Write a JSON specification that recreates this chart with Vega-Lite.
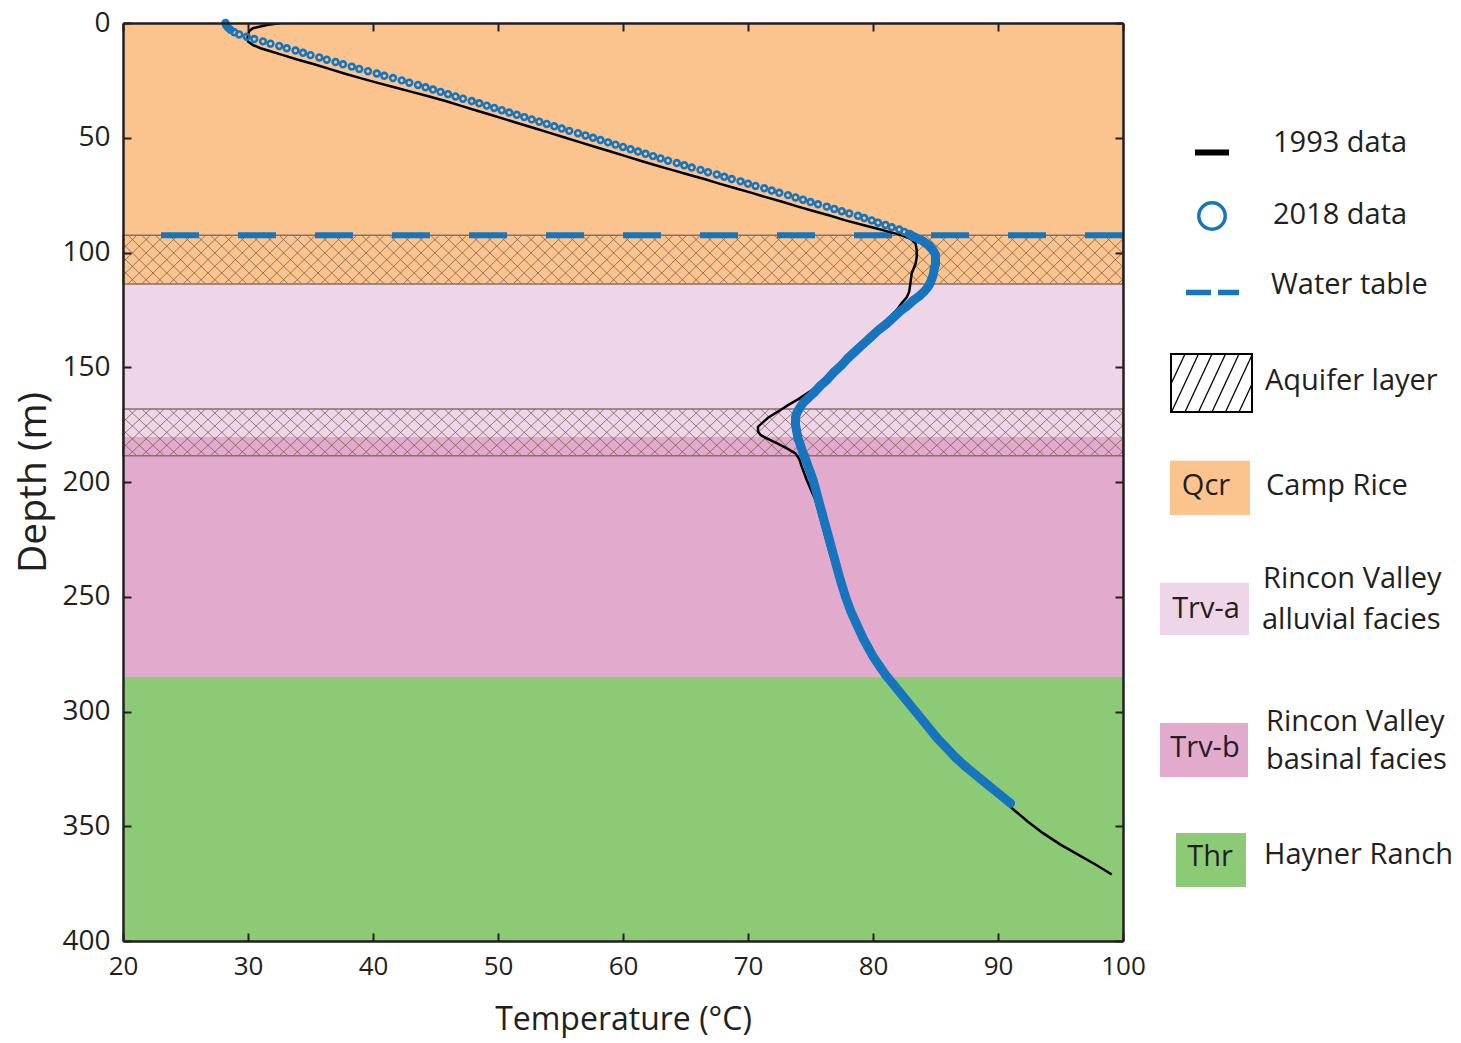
{
  "$schema": "https://vega.github.io/schema/vega-lite/v6.json",
  "background": "white",
  "padding": {"left": 14, "top": 9, "right": 0, "bottom": 14},
  "config": {"font": "Open Sans", "view": {"stroke": null}},
  "spacing": 12,
  "resolve": {"scale": {"x": "independent", "y": "independent"}},
  "datasets": {
    "formations": [
      {"code": "Qcr", "top": 0, "bottom": 113.7},
      {"code": "Trv-a", "top": 113.7, "bottom": 180.3},
      {"code": "Trv-b", "top": 180.3, "bottom": 285},
      {"code": "Thr", "top": 285, "bottom": 400}
    ],
    "aquifers": [
      {"top": 92.5, "bottom": 113.7},
      {"top": 168.2, "bottom": 188.6}
    ],
    "hatch": [
      {"p":16.0,"q":20.0},{"p":17.1,"q":21.1},{"p":18.2,"q":22.2},{"p":19.3,"q":23.3},{"p":20.4,"q":24.4},{"p":21.5,"q":25.5},{"p":22.6,"q":26.6},{"p":23.7,"q":27.7},{"p":24.8,"q":28.8},{"p":25.9,"q":29.9},
      {"p":27.0,"q":31.0},{"p":28.1,"q":32.1},{"p":29.2,"q":33.2},{"p":30.3,"q":34.3},{"p":31.4,"q":35.4},{"p":32.5,"q":36.5},{"p":33.6,"q":37.6},{"p":34.7,"q":38.7},{"p":35.8,"q":39.8},{"p":36.9,"q":40.9},
      {"p":38.0,"q":42.0},{"p":39.1,"q":43.1},{"p":40.2,"q":44.2},{"p":41.3,"q":45.3},{"p":42.4,"q":46.4},{"p":43.5,"q":47.5},{"p":44.6,"q":48.6},{"p":45.7,"q":49.7},{"p":46.8,"q":50.8},{"p":47.9,"q":51.9},
      {"p":49.0,"q":53.0},{"p":50.1,"q":54.1},{"p":51.2,"q":55.2},{"p":52.3,"q":56.3},{"p":53.4,"q":57.4},{"p":54.5,"q":58.5},{"p":55.6,"q":59.6},{"p":56.7,"q":60.7},{"p":57.8,"q":61.8},{"p":58.9,"q":62.9},
      {"p":60.0,"q":64.0},{"p":61.1,"q":65.1},{"p":62.2,"q":66.2},{"p":63.3,"q":67.3},{"p":64.4,"q":68.4},{"p":65.5,"q":69.5},{"p":66.6,"q":70.6},{"p":67.7,"q":71.7},{"p":68.8,"q":72.8},{"p":69.9,"q":73.9},
      {"p":71.0,"q":75.0},{"p":72.1,"q":76.1},{"p":73.2,"q":77.2},{"p":74.3,"q":78.3},{"p":75.4,"q":79.4},{"p":76.5,"q":80.5},{"p":77.6,"q":81.6},{"p":78.7,"q":82.7},{"p":79.8,"q":83.8},{"p":80.9,"q":84.9},
      {"p":82.0,"q":86.0},{"p":83.1,"q":87.1},{"p":84.2,"q":88.2},{"p":85.3,"q":89.3},{"p":86.4,"q":90.4},{"p":87.5,"q":91.5},{"p":88.6,"q":92.6},{"p":89.7,"q":93.7},{"p":90.8,"q":94.8},{"p":91.9,"q":95.9},
      {"p":93.0,"q":97.0},{"p":94.1,"q":98.1},{"p":95.2,"q":99.2},{"p":96.3,"q":100.3},{"p":97.4,"q":101.4},{"p":98.5,"q":102.5},{"p":99.6,"q":103.6}
    ],
    "d1993": [
      {"depth":0,"T":32.6},{"depth":0.9,"T":31.5},{"depth":2.3,"T":30.4},{"depth":3.5,"T":30.1},{"depth":5.2,"T":30.0},{"depth":6.7,"T":29.95},{"depth":8.1,"T":30.0},{"depth":9.6,"T":30.4},{"depth":11,"T":31.0},{"depth":12,"T":31.6},
      {"depth":14,"T":32.8},{"depth":16,"T":34.0},{"depth":18,"T":35.3},{"depth":20,"T":36.5},{"depth":22,"T":37.7},{"depth":24,"T":39.0},{"depth":26,"T":40.3},{"depth":28,"T":41.7},{"depth":30,"T":43.1},{"depth":32,"T":44.5},
      {"depth":34,"T":45.8},{"depth":36,"T":47.0},{"depth":38,"T":48.2},{"depth":40,"T":49.4},{"depth":42,"T":50.6},{"depth":44,"T":51.8},{"depth":46,"T":53.0},{"depth":48,"T":54.2},{"depth":50,"T":55.4},{"depth":52,"T":56.6},
      {"depth":54,"T":57.8},{"depth":56,"T":59.0},{"depth":58,"T":60.2},{"depth":60,"T":61.4},{"depth":62,"T":62.6},{"depth":64,"T":63.9},{"depth":66,"T":65.2},{"depth":68,"T":66.5},{"depth":70,"T":67.7},{"depth":72,"T":69.0},
      {"depth":74,"T":70.3},{"depth":76,"T":71.5},{"depth":78,"T":72.8},{"depth":80,"T":74.0},{"depth":82,"T":75.3},{"depth":84,"T":76.6},{"depth":86,"T":77.8},{"depth":88,"T":79.2},{"depth":90,"T":80.6},{"depth":91,"T":81.3},
      {"depth":92,"T":82.0},{"depth":93,"T":82.5},{"depth":94,"T":83.0},{"depth":96,"T":83.4},{"depth":99,"T":83.5},{"depth":102,"T":83.5},{"depth":105,"T":83.4},{"depth":109,"T":83.1},{"depth":113,"T":83.0},{"depth":117,"T":82.9},
      {"depth":119.5,"T":82.7},{"depth":122,"T":82.3},{"depth":125,"T":81.9},{"depth":131,"T":80.8},{"depth":137,"T":79.6},{"depth":143,"T":78.4},{"depth":149,"T":77.3},{"depth":155,"T":76.1},{"depth":160,"T":75.1},{"depth":164,"T":74.0},
      {"depth":166.5,"T":73.2},{"depth":168.6,"T":72.6},{"depth":172,"T":71.6},{"depth":175.9,"T":70.8},{"depth":178,"T":70.8},{"depth":179.5,"T":71.0},{"depth":181,"T":71.5},{"depth":183.1,"T":72.3},{"depth":185,"T":73.0},{"depth":187.5,"T":73.8},
      {"depth":190,"T":74.1},{"depth":193.3,"T":74.3},{"depth":199.1,"T":74.7},{"depth":208,"T":75.4},{"depth":220,"T":76.0},{"depth":230,"T":76.5},{"depth":243,"T":77.2},{"depth":250,"T":77.6},{"depth":256,"T":78.0},{"depth":262,"T":78.5},
      {"depth":270,"T":79.2},{"depth":276,"T":79.8},{"depth":280,"T":80.3},{"depth":284,"T":80.8},{"depth":288,"T":81.4},{"depth":292,"T":82.0},{"depth":296,"T":82.6},{"depth":300,"T":83.2},{"depth":304,"T":83.8},{"depth":308,"T":84.4},
      {"depth":312,"T":85.0},{"depth":316,"T":85.7},{"depth":320,"T":86.4},{"depth":324,"T":87.2},{"depth":328,"T":88.1},{"depth":332,"T":89.0},{"depth":336,"T":89.9},{"depth":340,"T":90.7},{"depth":343,"T":91.3},{"depth":348,"T":92.4},
      {"depth":353,"T":93.6},{"depth":358,"T":95.0},{"depth":362,"T":96.3},{"depth":367,"T":97.9},{"depth":371,"T":99.1}
    ],
    "d2018": [
      {"depth":0,"T":28.2},{"depth":1,"T":28.25},{"depth":2,"T":28.4},{"depth":3,"T":28.6},{"depth":4,"T":28.9},{"depth":5,"T":29.3},{"depth":6,"T":29.9},{"depth":7,"T":30.5},{"depth":8,"T":31.2},{"depth":9,"T":31.8},
      {"depth":10,"T":32.5},{"depth":11,"T":33.1},{"depth":12,"T":33.8},{"depth":13,"T":34.4},{"depth":14,"T":35.0},{"depth":15,"T":35.7},{"depth":16,"T":36.3},{"depth":17,"T":37.0},{"depth":18,"T":37.6},{"depth":19,"T":38.3},
      {"depth":20,"T":38.9},{"depth":21,"T":39.6},{"depth":22,"T":40.3},{"depth":23,"T":40.9},{"depth":24,"T":41.6},{"depth":25,"T":42.3},{"depth":26,"T":42.9},{"depth":27,"T":43.6},{"depth":28,"T":44.2},{"depth":29,"T":44.8},
      {"depth":30,"T":45.4},{"depth":31,"T":46.0},{"depth":32,"T":46.6},{"depth":33,"T":47.2},{"depth":34,"T":47.9},{"depth":35,"T":48.5},{"depth":36,"T":49.1},{"depth":37,"T":49.7},{"depth":38,"T":50.3},{"depth":39,"T":50.9},
      {"depth":40,"T":51.5},{"depth":41,"T":52.1},{"depth":42,"T":52.7},{"depth":43,"T":53.3},{"depth":44,"T":53.9},{"depth":45,"T":54.5},{"depth":46,"T":55.1},{"depth":47,"T":55.7},{"depth":48,"T":56.4},{"depth":49,"T":57.0},
      {"depth":50,"T":57.6},{"depth":51,"T":58.2},{"depth":52,"T":58.8},{"depth":53,"T":59.4},{"depth":54,"T":60.0},{"depth":55,"T":60.6},{"depth":56,"T":61.2},{"depth":57,"T":61.8},{"depth":58,"T":62.4},{"depth":59,"T":63.0},
      {"depth":60,"T":63.6},{"depth":61,"T":64.3},{"depth":62,"T":64.9},{"depth":63,"T":65.5},{"depth":64,"T":66.2},{"depth":65,"T":66.8},{"depth":66,"T":67.5},{"depth":67,"T":68.1},{"depth":68,"T":68.7},{"depth":69,"T":69.4},
      {"depth":70,"T":70.0},{"depth":71,"T":70.6},{"depth":72,"T":71.3},{"depth":73,"T":71.9},{"depth":74,"T":72.5},{"depth":75,"T":73.2},{"depth":76,"T":73.8},{"depth":77,"T":74.4},{"depth":78,"T":75.0},{"depth":79,"T":75.6},
      {"depth":80,"T":76.3},{"depth":81,"T":76.9},{"depth":82,"T":77.5},{"depth":83,"T":78.1},{"depth":84,"T":78.8},{"depth":85,"T":79.3},{"depth":86,"T":79.9},{"depth":87,"T":80.4},{"depth":88,"T":81.0},{"depth":89,"T":81.5},
      {"depth":90,"T":82.1},{"depth":91,"T":82.5},{"depth":92,"T":82.9},{"depth":93,"T":83.2},{"depth":95,"T":84.0},{"depth":97,"T":84.5},{"depth":99,"T":84.8},{"depth":101,"T":85.0},{"depth":103,"T":85.0},{"depth":105,"T":85.0},
      {"depth":107,"T":84.9},{"depth":110,"T":84.8},{"depth":113,"T":84.6},{"depth":115,"T":84.4},{"depth":117,"T":84.1},{"depth":119,"T":83.7},{"depth":121,"T":83.2},{"depth":123,"T":82.8},{"depth":125,"T":82.3},{"depth":128,"T":81.7},
      {"depth":131,"T":81.1},{"depth":134,"T":80.4},{"depth":137,"T":79.8},{"depth":140,"T":79.2},{"depth":143,"T":78.6},{"depth":146,"T":78.0},{"depth":149,"T":77.5},{"depth":152,"T":76.9},{"depth":155.6,"T":76.3},{"depth":158,"T":75.8},
      {"depth":161,"T":75.3},{"depth":163.5,"T":74.8},{"depth":165.6,"T":74.4},{"depth":168,"T":74.1},{"depth":170,"T":73.9},{"depth":172,"T":73.8},{"depth":175,"T":73.8},{"depth":178,"T":73.9},{"depth":181,"T":74.0},{"depth":184,"T":74.2},
      {"depth":187.4,"T":74.4},{"depth":190,"T":74.6},{"depth":193,"T":74.8},{"depth":196,"T":75.0},{"depth":199,"T":75.2},{"depth":204,"T":75.45},{"depth":208,"T":75.65},{"depth":214,"T":75.95},{"depth":220,"T":76.25},{"depth":225,"T":76.5},
      {"depth":230,"T":76.75},{"depth":236,"T":77.05},{"depth":243,"T":77.4},{"depth":250,"T":77.8},{"depth":256,"T":78.2},{"depth":262,"T":78.7},{"depth":268,"T":79.2},{"depth":272,"T":79.6},{"depth":276,"T":80.0},{"depth":280,"T":80.5},
      {"depth":284,"T":81.0},{"depth":288,"T":81.6},{"depth":292,"T":82.2},{"depth":296,"T":82.8},{"depth":300,"T":83.4},{"depth":304,"T":84.0},{"depth":308,"T":84.6},{"depth":312,"T":85.2},{"depth":316,"T":85.9},{"depth":320,"T":86.6},
      {"depth":324,"T":87.4},{"depth":328,"T":88.3},{"depth":332,"T":89.2},{"depth":336,"T":90.1},{"depth":340,"T":91.0}
    ],
    "legendhatch": [
      {"x1":13,"y1":361.1,"x2":27,"y2":331},
      {"x1":13.5,"y1":389,"x2":40.5,"y2":331},
      {"x1":27,"y1":389,"x2":54,"y2":331},
      {"x1":40.5,"y1":389,"x2":67.5,"y2":331},
      {"x1":54,"y1":389,"x2":81,"y2":331},
      {"x1":67.5,"y1":389,"x2":94,"y2":332.1},
      {"x1":81,"y1":389,"x2":94,"y2":361.1}
    ]
  },
  "hconcat": [
    {
      "width": 1000,
      "height": 918,
      "resolve": {"axis": {"x": "independent", "y": "independent"}},
      "layer": [
        {
          "data": {"name": "formations"},
          "mark": {"type": "rect"},
          "encoding": {
            "x": {"datum": 20, "type": "quantitative", "scale": {"domain": [20, 100], "nice": false, "zero": false},
              "axis": {"orient": "bottom", "values": [20,30,40,50,60,70,80,90,100], "grid": false, "tickSize": -8, "tickWidth": 2, "tickColor": "#231f20", "domainColor": "#231f20", "domainWidth": 2.5, "labelFontSize": 26, "labelColor": "#231f20", "labelPadding": 20, "labelFlush": false, "labelOverlap": false, "title": "Temperature (°C)", "titleFontSize": 32, "titleFontWeight": "normal", "titleColor": "#231f20", "titlePadding": 25, "zindex": 1}},
            "x2": {"datum": 100},
            "y": {"field": "top", "type": "quantitative", "scale": {"domain": [0, 400], "reverse": true, "nice": false, "zero": false},
              "axis": {"orient": "left", "values": [0,50,100,150,200,250,300,350,400], "grid": false, "tickSize": -8, "tickWidth": 2, "tickColor": "#231f20", "domainColor": "#231f20", "domainWidth": 2.5, "labelFontSize": 28, "labelColor": "#231f20", "labelPadding": 21, "labelFlush": false, "labelOverlap": false, "title": "Depth (m)", "titleFontSize": 39, "titleFontWeight": "normal", "titleColor": "#231f20", "titlePadding": 8, "zindex": 1}},
            "y2": {"field": "bottom"},
            "color": {"field": "code", "type": "nominal", "scale": {"domain": ["Qcr", "Trv-a", "Trv-b", "Thr"], "range": ["#fbc48f", "#eed6e8", "#e2aacd", "#8dca76"]}, "legend": null}
          }
        },
        {
          "data": {"name": "hatch"},
          "mark": {"type": "rule", "stroke": "#6e5446", "strokeWidth": 1, "opacity": 0.7, "clip": true},
          "encoding": {
            "x": {"field": "p", "type": "quantitative", "scale": {"domain": [20, 100], "nice": false, "zero": false}, "axis": null},
            "x2": {"field": "q"},
            "y": {"datum": 92.5, "type": "quantitative", "scale": {"domain": [0, 400], "reverse": true, "nice": false, "zero": false}, "axis": null},
            "y2": {"datum": 113.7}
          }
        },
        {
          "data": {"name": "hatch"},
          "mark": {"type": "rule", "stroke": "#6e5446", "strokeWidth": 1, "opacity": 0.7, "clip": true},
          "encoding": {
            "x": {"field": "q", "type": "quantitative", "scale": {"domain": [20, 100], "nice": false, "zero": false}, "axis": null},
            "x2": {"field": "p"},
            "y": {"datum": 92.5, "type": "quantitative", "scale": {"domain": [0, 400], "reverse": true, "nice": false, "zero": false}, "axis": null},
            "y2": {"datum": 113.7}
          }
        },
        {
          "data": {"name": "hatch"},
          "mark": {"type": "rule", "stroke": "#6e5446", "strokeWidth": 1, "opacity": 0.7, "clip": true},
          "encoding": {
            "x": {"field": "p", "type": "quantitative", "scale": {"domain": [20, 100], "nice": false, "zero": false}, "axis": null},
            "x2": {"field": "q"},
            "y": {"datum": 168.2, "type": "quantitative", "scale": {"domain": [0, 400], "reverse": true, "nice": false, "zero": false}, "axis": null},
            "y2": {"datum": 188.6}
          }
        },
        {
          "data": {"name": "hatch"},
          "mark": {"type": "rule", "stroke": "#6e5446", "strokeWidth": 1, "opacity": 0.7, "clip": true},
          "encoding": {
            "x": {"field": "q", "type": "quantitative", "scale": {"domain": [20, 100], "nice": false, "zero": false}, "axis": null},
            "x2": {"field": "p"},
            "y": {"datum": 168.2, "type": "quantitative", "scale": {"domain": [0, 400], "reverse": true, "nice": false, "zero": false}, "axis": null},
            "y2": {"datum": 188.6}
          }
        },
        {
          "data": {"name": "aquifers"},
          "mark": {"type": "rect", "fillOpacity": 0, "stroke": "#85706a", "strokeWidth": 1.5},
          "encoding": {
            "x": {"datum": 20, "type": "quantitative", "scale": {"domain": [20, 100], "nice": false, "zero": false}, "axis": null},
            "x2": {"datum": 100},
            "y": {"field": "top", "type": "quantitative", "scale": {"domain": [0, 400], "reverse": true, "nice": false, "zero": false}, "axis": null},
            "y2": {"field": "bottom"}
          }
        },
        {
          "data": {"values": [{"name": "Water table", "depth": 92.5}]},
          "mark": {"type": "rule", "color": "#1775be", "strokeWidth": 6, "strokeDash": [38, 39], "strokeCap": "butt"},
          "encoding": {
            "y": {"field": "depth", "type": "quantitative", "scale": {"domain": [0, 400], "reverse": true, "nice": false, "zero": false}, "axis": null}
          }
        },
        {
          "data": {"name": "d1993"},
          "mark": {"type": "line", "color": "#000000", "strokeWidth": 2.5, "clip": true},
          "encoding": {
            "x": {"field": "T", "type": "quantitative", "scale": {"domain": [20, 100], "nice": false, "zero": false}, "axis": null},
            "y": {"field": "depth", "type": "quantitative", "scale": {"domain": [0, 400], "reverse": true, "nice": false, "zero": false}, "axis": null},
            "order": {"field": "depth", "type": "quantitative"}
          }
        },
        {
          "data": {"name": "d2018"},
          "transform": [{"filter": "datum.depth >= 92"}],
          "mark": {"type": "line", "color": "#1775be", "strokeWidth": 9, "strokeJoin": "round", "strokeCap": "round"},
          "encoding": {
            "x": {"field": "T", "type": "quantitative", "scale": {"domain": [20, 100], "nice": false, "zero": false}, "axis": null},
            "y": {"field": "depth", "type": "quantitative", "scale": {"domain": [0, 400], "reverse": true, "nice": false, "zero": false}, "axis": null},
            "order": {"field": "depth", "type": "quantitative"}
          }
        },
        {
          "data": {"name": "d2018"},
          "mark": {"type": "point", "shape": "circle", "filled": false, "color": "#1775be", "strokeWidth": 2.6, "size": 34, "opacity": 1},
          "encoding": {
            "x": {"field": "T", "type": "quantitative", "scale": {"domain": [20, 100], "nice": false, "zero": false}, "axis": null},
            "y": {"field": "depth", "type": "quantitative", "scale": {"domain": [0, 400], "reverse": true, "nice": false, "zero": false}, "axis": null}
          }
        },
        {
          "data": {"name": "formations"},
          "mark": {"type": "point", "opacity": 0},
          "encoding": {
            "x": {"datum": 60, "type": "quantitative", "scale": {"domain": [20, 100], "nice": false, "zero": false},
              "axis": {"orient": "top", "values": [20,30,40,50,60,70,80,90,100], "grid": false, "labels": false, "tickSize": -8, "tickWidth": 2, "tickColor": "#231f20", "domainColor": "#231f20", "domainWidth": 2.5, "title": null, "zindex": 1}},
            "y": {"field": "top", "type": "quantitative", "scale": {"domain": [0, 400], "reverse": true, "nice": false, "zero": false},
              "axis": {"orient": "right", "values": [0,50,100,150,200,250,300,350,400], "grid": false, "labels": false, "tickSize": -8, "tickWidth": 2, "tickColor": "#231f20", "domainColor": "#231f20", "domainWidth": 2.5, "title": null, "zindex": 1}}
          }
        }
      ]
    },
    {
      "width": 300,
      "height": 918,
      "data": {"values": [{}]},
      "layer": [
        {
          "mark": {"type": "rule", "color": "#000000", "strokeWidth": 6},
          "encoding": {
            "x": {"datum": 37, "type": "quantitative", "scale": {"domain": [0, 300], "nice": false, "zero": false}, "axis": null},
            "x2": {"datum": 71},
            "y": {"datum": 129.5, "type": "quantitative", "scale": {"domain": [0, 918], "reverse": true, "nice": false, "zero": false}, "axis": null}
          }
        },
        {
          "mark": {"type": "point", "shape": "circle", "filled": false, "color": "#1775be", "strokeWidth": 3.5, "size": 700, "opacity": 1},
          "encoding": {
            "x": {"datum": 54, "type": "quantitative", "scale": {"domain": [0, 300], "nice": false, "zero": false}, "axis": null},
            "y": {"datum": 193, "type": "quantitative", "scale": {"domain": [0, 918], "reverse": true, "nice": false, "zero": false}, "axis": null}
          }
        },
        {
          "mark": {"type": "rule", "color": "#1775be", "strokeWidth": 5.5, "strokeDash": [25, 7], "strokeCap": "butt"},
          "encoding": {
            "x": {"datum": 28, "type": "quantitative", "scale": {"domain": [0, 300], "nice": false, "zero": false}, "axis": null},
            "x2": {"datum": 81},
            "y": {"datum": 269.5, "type": "quantitative", "scale": {"domain": [0, 918], "reverse": true, "nice": false, "zero": false}, "axis": null}
          }
        },
        {
          "mark": {"type": "rect", "fill": "#ffffff", "stroke": "#000000", "strokeWidth": 2},
          "encoding": {
            "x": {"datum": 13, "type": "quantitative", "scale": {"domain": [0, 300], "nice": false, "zero": false}, "axis": null},
            "x2": {"datum": 94},
            "y": {"datum": 331, "type": "quantitative", "scale": {"domain": [0, 918], "reverse": true, "nice": false, "zero": false}, "axis": null},
            "y2": {"datum": 389}
          }
        },
        {
          "data": {"name": "legendhatch"},
          "mark": {"type": "rule", "color": "#000000", "strokeWidth": 1.3},
          "encoding": {
            "x": {"field": "x1", "type": "quantitative", "scale": {"domain": [0, 300], "nice": false, "zero": false}, "axis": null},
            "x2": {"field": "x2"},
            "y": {"field": "y1", "type": "quantitative", "scale": {"domain": [0, 918], "reverse": true, "nice": false, "zero": false}, "axis": null},
            "y2": {"field": "y2"}
          }
        },
        {
          "mark": {"type": "rect", "fill": "#fbc48f"},
          "encoding": {
            "x": {"datum": 12, "type": "quantitative", "scale": {"domain": [0, 300], "nice": false, "zero": false}, "axis": null},
            "x2": {"datum": 92},
            "y": {"datum": 437.7, "type": "quantitative", "scale": {"domain": [0, 918], "reverse": true, "nice": false, "zero": false}, "axis": null},
            "y2": {"datum": 492}
          }
        },
        {
          "mark": {"type": "rect", "fill": "#eed6e8"},
          "encoding": {
            "x": {"datum": 2, "type": "quantitative", "scale": {"domain": [0, 300], "nice": false, "zero": false}, "axis": null},
            "x2": {"datum": 91},
            "y": {"datum": 559.7, "type": "quantitative", "scale": {"domain": [0, 918], "reverse": true, "nice": false, "zero": false}, "axis": null},
            "y2": {"datum": 612}
          }
        },
        {
          "mark": {"type": "rect", "fill": "#e2aacd"},
          "encoding": {
            "x": {"datum": 2, "type": "quantitative", "scale": {"domain": [0, 300], "nice": false, "zero": false}, "axis": null},
            "x2": {"datum": 90},
            "y": {"datum": 700, "type": "quantitative", "scale": {"domain": [0, 918], "reverse": true, "nice": false, "zero": false}, "axis": null},
            "y2": {"datum": 754}
          }
        },
        {
          "mark": {"type": "rect", "fill": "#8dca76"},
          "encoding": {
            "x": {"datum": 18, "type": "quantitative", "scale": {"domain": [0, 300], "nice": false, "zero": false}, "axis": null},
            "x2": {"datum": 88},
            "y": {"datum": 810, "type": "quantitative", "scale": {"domain": [0, 918], "reverse": true, "nice": false, "zero": false}, "axis": null},
            "y2": {"datum": 864}
          }
        },
        {
          "mark": {"type": "text", "text": "Qcr", "fontSize": 29, "color": "#231f20", "align": "center", "baseline": "middle"},
          "encoding": {
            "x": {"datum": 48, "type": "quantitative", "scale": {"domain": [0, 300], "nice": false, "zero": false}, "axis": null},
            "y": {"datum": 463, "type": "quantitative", "scale": {"domain": [0, 918], "reverse": true, "nice": false, "zero": false}, "axis": null}
          }
        },
        {
          "mark": {"type": "text", "text": "Trv-a", "fontSize": 29, "color": "#231f20", "align": "center", "baseline": "middle"},
          "encoding": {
            "x": {"datum": 48, "type": "quantitative", "scale": {"domain": [0, 300], "nice": false, "zero": false}, "axis": null},
            "y": {"datum": 586, "type": "quantitative", "scale": {"domain": [0, 918], "reverse": true, "nice": false, "zero": false}, "axis": null}
          }
        },
        {
          "mark": {"type": "text", "text": "Trv-b", "fontSize": 29, "color": "#231f20", "align": "center", "baseline": "middle"},
          "encoding": {
            "x": {"datum": 47, "type": "quantitative", "scale": {"domain": [0, 300], "nice": false, "zero": false}, "axis": null},
            "y": {"datum": 725, "type": "quantitative", "scale": {"domain": [0, 918], "reverse": true, "nice": false, "zero": false}, "axis": null}
          }
        },
        {
          "mark": {"type": "text", "text": "Thr", "fontSize": 29, "color": "#231f20", "align": "center", "baseline": "middle"},
          "encoding": {
            "x": {"datum": 52, "type": "quantitative", "scale": {"domain": [0, 300], "nice": false, "zero": false}, "axis": null},
            "y": {"datum": 834, "type": "quantitative", "scale": {"domain": [0, 918], "reverse": true, "nice": false, "zero": false}, "axis": null}
          }
        },
        {
          "mark": {"type": "text", "text": "1993 data", "fontSize": 29, "color": "#231f20", "align": "left", "baseline": "middle"},
          "encoding": {
            "x": {"datum": 115, "type": "quantitative", "scale": {"domain": [0, 300], "nice": false, "zero": false}, "axis": null},
            "y": {"datum": 120, "type": "quantitative", "scale": {"domain": [0, 918], "reverse": true, "nice": false, "zero": false}, "axis": null}
          }
        },
        {
          "mark": {"type": "text", "text": "2018 data", "fontSize": 29, "color": "#231f20", "align": "left", "baseline": "middle"},
          "encoding": {
            "x": {"datum": 115, "type": "quantitative", "scale": {"domain": [0, 300], "nice": false, "zero": false}, "axis": null},
            "y": {"datum": 192, "type": "quantitative", "scale": {"domain": [0, 918], "reverse": true, "nice": false, "zero": false}, "axis": null}
          }
        },
        {
          "mark": {"type": "text", "text": "Water table", "fontSize": 29, "color": "#231f20", "align": "left", "baseline": "middle"},
          "encoding": {
            "x": {"datum": 113, "type": "quantitative", "scale": {"domain": [0, 300], "nice": false, "zero": false}, "axis": null},
            "y": {"datum": 262, "type": "quantitative", "scale": {"domain": [0, 918], "reverse": true, "nice": false, "zero": false}, "axis": null}
          }
        },
        {
          "mark": {"type": "text", "text": "Aquifer layer", "fontSize": 29, "color": "#231f20", "align": "left", "baseline": "middle"},
          "encoding": {
            "x": {"datum": 107, "type": "quantitative", "scale": {"domain": [0, 300], "nice": false, "zero": false}, "axis": null},
            "y": {"datum": 358, "type": "quantitative", "scale": {"domain": [0, 918], "reverse": true, "nice": false, "zero": false}, "axis": null}
          }
        },
        {
          "mark": {"type": "text", "text": "Camp Rice", "fontSize": 29, "color": "#231f20", "align": "left", "baseline": "middle"},
          "encoding": {
            "x": {"datum": 108, "type": "quantitative", "scale": {"domain": [0, 300], "nice": false, "zero": false}, "axis": null},
            "y": {"datum": 463, "type": "quantitative", "scale": {"domain": [0, 918], "reverse": true, "nice": false, "zero": false}, "axis": null}
          }
        },
        {
          "mark": {"type": "text", "text": "Rincon Valley", "fontSize": 29, "color": "#231f20", "align": "left", "baseline": "middle"},
          "encoding": {
            "x": {"datum": 105, "type": "quantitative", "scale": {"domain": [0, 300], "nice": false, "zero": false}, "axis": null},
            "y": {"datum": 555.5, "type": "quantitative", "scale": {"domain": [0, 918], "reverse": true, "nice": false, "zero": false}, "axis": null}
          }
        },
        {
          "mark": {"type": "text", "text": "alluvial facies", "fontSize": 29, "color": "#231f20", "align": "left", "baseline": "middle"},
          "encoding": {
            "x": {"datum": 104, "type": "quantitative", "scale": {"domain": [0, 300], "nice": false, "zero": false}, "axis": null},
            "y": {"datum": 597, "type": "quantitative", "scale": {"domain": [0, 918], "reverse": true, "nice": false, "zero": false}, "axis": null}
          }
        },
        {
          "mark": {"type": "text", "text": "Rincon Valley", "fontSize": 29, "color": "#231f20", "align": "left", "baseline": "middle"},
          "encoding": {
            "x": {"datum": 108, "type": "quantitative", "scale": {"domain": [0, 300], "nice": false, "zero": false}, "axis": null},
            "y": {"datum": 698.5, "type": "quantitative", "scale": {"domain": [0, 918], "reverse": true, "nice": false, "zero": false}, "axis": null}
          }
        },
        {
          "mark": {"type": "text", "text": "basinal facies", "fontSize": 29, "color": "#231f20", "align": "left", "baseline": "middle"},
          "encoding": {
            "x": {"datum": 108, "type": "quantitative", "scale": {"domain": [0, 300], "nice": false, "zero": false}, "axis": null},
            "y": {"datum": 737, "type": "quantitative", "scale": {"domain": [0, 918], "reverse": true, "nice": false, "zero": false}, "axis": null}
          }
        },
        {
          "mark": {"type": "text", "text": "Hayner Ranch", "fontSize": 29, "color": "#231f20", "align": "left", "baseline": "middle"},
          "encoding": {
            "x": {"datum": 106, "type": "quantitative", "scale": {"domain": [0, 300], "nice": false, "zero": false}, "axis": null},
            "y": {"datum": 831.5, "type": "quantitative", "scale": {"domain": [0, 918], "reverse": true, "nice": false, "zero": false}, "axis": null}
          }
        }
      ]
    }
  ]
}
